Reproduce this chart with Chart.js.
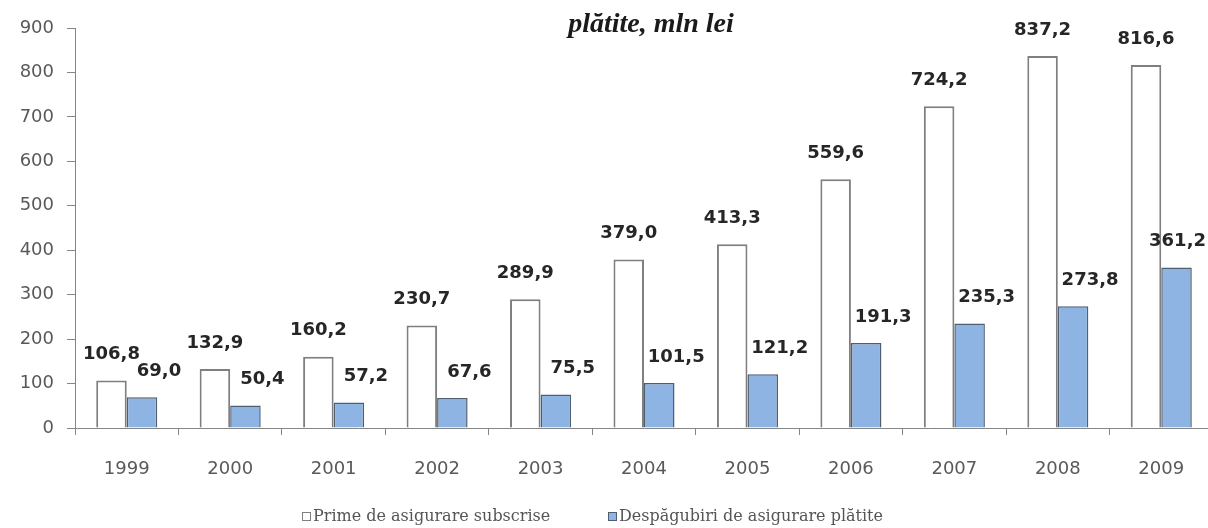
<!DOCTYPE html>
<html>
<head>
<meta charset="utf-8">
<script src="https://cdn.jsdelivr.net/npm/chart.js@4"></script>
<style>
  html, body { margin: 0; padding: 0; background: #ffffff; overflow: hidden; }
  #wrap { width: 1214px; height: 528px; }
</style>
</head>
<body>
<div id="wrap"><canvas id="chart"></canvas></div>
<script>
// date din grafic
const years = ['1999', '2000', '2001', '2002', '2003', '2004', '2005', '2006', '2007', '2008', '2009'];
const primeValues = [106.8, 132.9, 160.2, 230.7, 289.9, 379.0, 413.3, 559.6, 724.2, 837.2, 816.6];
const despValues = [69.0, 50.4, 57.2, 67.6, 75.5, 101.5, 121.2, 191.3, 235.3, 273.8, 361.2];
const seriesNames = ['Prime de asigurare subscrise', 'Despăgubiri de asigurare plătite'];
const titleText = 'plătite, mln lei';
const yMin = 0;
const yMax = 900;
const yStep = 100;

const axisColor = '#868686';
const tickColor = '#595959';

// format romanesc cu virgula
function fmt(v) {
  return v.toFixed(1).replace('.', ',');
}

/**
 * etichete cu valori deasupra barelor
 */
const valueLabels = {
  id: 'valueLabels',
  afterDatasetsDraw(chart) {
    const ctx = chart.ctx;
    ctx.save();
    ctx.font = 'bold 18px "DejaVu Sans"';
    ctx.fillStyle = '#262626';
    ctx.textAlign = 'center';
    ctx.textBaseline = 'middle';
    chart.data.datasets.forEach((ds, i) => {
      chart.getDatasetMeta(i).data.forEach((bar, j) => {
        const txt = fmt(ds.data[j]);
        const w = ctx.measureText(txt).width;
        let x = bar.x + (i === 1 ? 17 : 0);
        x = Math.min(x, 1206 - w / 2);
        ctx.fillText(txt, x, bar.y - 26);
      });
    });
    ctx.restore();
  }
};

/**
 * titlu + legenda desenate manual
 */
const titleAndLegend = {
  id: 'titleAndLegend',
  afterDraw(chart) {
    const ctx = chart.ctx;
    ctx.save();
    ctx.fillStyle = '#1a1a1a';
    ctx.font = 'italic bold 28px "Liberation Serif"';
    ctx.textAlign = 'center';
    ctx.textBaseline = 'alphabetic';
    ctx.fillText(titleText, 651, 32);

    // legenda
    ctx.font = '16px "DejaVu Serif"';
    ctx.textAlign = 'left';
    ctx.textBaseline = 'middle';
    const items = [
      { x: 302, fill: '#ffffff', stroke: '#7f7f7f' },
      { x: 608, fill: '#8db4e2', stroke: '#4f5f70' }
    ];
    items.forEach((it, i) => {
      ctx.fillStyle = it.fill;
      ctx.strokeStyle = it.stroke;
      ctx.lineWidth = 1;
      ctx.fillRect(it.x + 0.5, 512.5, 8, 8);
      ctx.strokeRect(it.x + 0.5, 512.5, 8, 8);
      ctx.fillStyle = '#555555';
      ctx.fillText(seriesNames[i], it.x + 11, 517);
    });
    ctx.restore();
  }
};

const ctx = document.getElementById('chart');

new Chart(ctx, {
  type: 'bar',
  data: {
    labels: years,
    datasets: [
      {
        label: seriesNames[0],
        data: primeValues,
        backgroundColor: '#ffffff',
        borderColor: '#7f7f7f',
        borderWidth: 2,
        barPercentage: 1,
        categoryPercentage: 0.59
      },
      {
        label: seriesNames[1],
        data: despValues,
        backgroundColor: '#8db4e2',
        borderColor: '#4f5f70',
        borderWidth: 1.5,
        barPercentage: 1,
        categoryPercentage: 0.59
      }
    ]
  },
  options: {
    responsive: true,
    maintainAspectRatio: false,
    animation: false,
    layout: {
      padding: { top: 28, right: 1, left: 0, bottom: 0 }
    },
    plugins: {
      legend: { display: false },
      tooltip: { enabled: false }
    },
    scales: {
      x: {
        grid: {
          offset: true,
          drawOnChartArea: false,
          tickLength: 7,
          color: axisColor
        },
        border: { color: axisColor },
        ticks: {
          color: tickColor,
          font: { family: 'DejaVu Sans', size: 18 },
          padding: 24
        },
        afterFit(scale) {
          scale.height = 100;
        }
      },
      y: {
        min: yMin,
        max: yMax,
        grid: {
          drawOnChartArea: false,
          tickLength: 8,
          color: axisColor
        },
        border: { color: axisColor },
        ticks: {
          stepSize: yStep,
          color: tickColor,
          font: { family: 'DejaVu Sans', size: 18 },
          padding: 13
        },
        afterFit(scale) {
          scale.width = 75;
        }
      }
    }
  },
  plugins: [valueLabels, titleAndLegend]
});
</script>
</body>
</html>
